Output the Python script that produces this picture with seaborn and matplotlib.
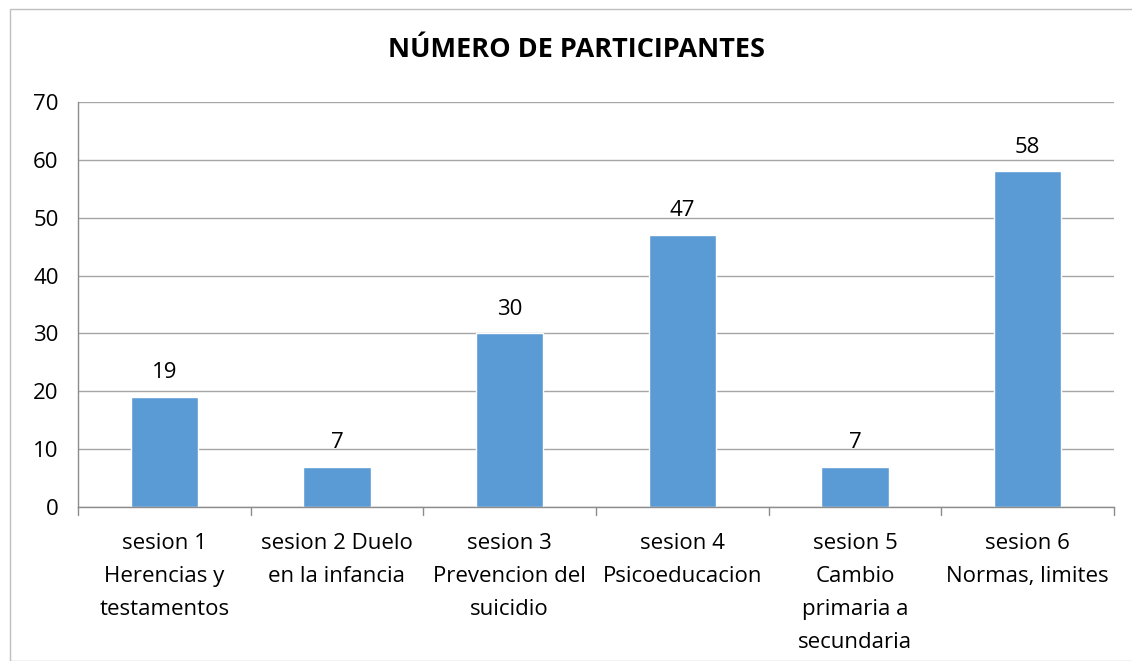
import matplotlib
matplotlib.use("Agg")
import matplotlib.pyplot as plt
import seaborn as sns
import pandas as pd
from matplotlib.patches import Rectangle

categories = [
    "sesion 1\nHerencias y\ntestamentos",
    "sesion 2 Duelo\nen la infancia",
    "sesion 3\nPrevencion del\nsuicidio",
    "sesion 4\nPsicoeducacion",
    "sesion 5\nCambio\nprimaria a\nsecundaria",
    "sesion 6\nNormas, limites",
]
participants = [19, 7, 30, 47, 7, 58]
y_ticks = [0, 10, 20, 30, 40, 50, 60, 70]

sns.set_style("white")
plt.rcParams["font.family"] = ["Open Sans", "DejaVu Sans"]
plt.rcParams["text.color"] = "black"
plt.rcParams["xtick.color"] = "black"
plt.rcParams["ytick.color"] = "black"

df = pd.DataFrame({"sesion": categories, "participantes": participants})

fig = plt.figure(figsize=(11.32, 6.61), dpi=100)
ax = fig.add_axes([78 / 1132, 1 - 507 / 661, (1114 - 78) / 1132, (507 - 102) / 661])

sns.barplot(data=df, x="sesion", y="participantes", color="#5B9BD5",
            saturation=1, width=0.39, ax=ax)

for i, v in enumerate(participants):
    ax.text(i, v + 2.4, str(v), ha="center", va="bottom", fontsize=16)

ax.set_ylim(0, 70)
ax.set_xlim(-0.5, len(categories) - 0.5)
ax.set_yticks(y_ticks)
ax.yaxis.grid(True, color="#A6A6A6", linewidth=1)
ax.set_axisbelow(True)
ax.set_xlabel("")
ax.set_ylabel("")

ax.tick_params(axis="y", labelsize=16, length=6, color="#8C8C8C", pad=8)
ax.set_xticks(range(len(categories)))
ax.set_xticklabels(categories, fontsize=16, va="top", linespacing=1.75)
ax.tick_params(axis="x", length=0, pad=19)
# tick marks between categories
for b in [k - 0.5 for k in range(len(categories) + 1)]:
    ax.plot([b, b], [0, -1.3], color="#8C8C8C", lw=1, clip_on=False)

for s in ["top", "right"]:
    ax.spines[s].set_visible(False)
for s in ["left", "bottom"]:
    ax.spines[s].set_color("#8C8C8C")
    ax.spines[s].set_linewidth(1)

fig.text(577 / 1132, 1 - 50 / 661, "NÚMERO DE PARTICIPANTES", ha="center",
         va="center", fontsize=19.5, fontweight="bold")

fig.patches.append(Rectangle((10 / 1132, 0), 1.2, 1 - 9 / 661,
                             transform=fig.transFigure, fill=False,
                             edgecolor="#BFBFBF", linewidth=1))

fig.savefig("out.png", dpi=100)
